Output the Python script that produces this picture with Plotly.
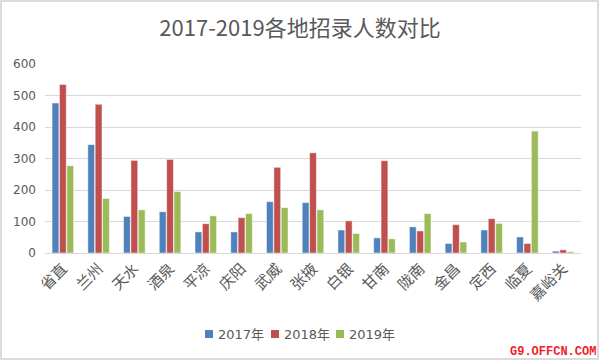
import plotly.graph_objects as go

categories = ["省直", "兰州", "天水", "酒泉", "平凉", "庆阳", "武威", "张掖", "白银", "甘南", "陇南", "金昌", "定西", "临夏", "嘉峪关"]
v2017 = [476, 344, 116, 131, 67, 67, 163, 160, 73, 48, 83, 30, 73, 51, 6]
v2018 = [535, 472, 294, 297, 93, 112, 272, 318, 102, 293, 70, 90, 109, 30, 10]
v2019 = [277, 173, 137, 195, 118, 125, 144, 137, 62, 45, 125, 35, 94, 387, 4]
series_names = ["2017年", "2018年", "2019年"]
colors = ["#4F81BD", "#C0504D", "#9BBB59"]

font_fam = "Noto Sans CJK SC, DejaVu Sans, sans-serif"

fig = go.Figure()
for name, vals, c in zip(series_names, [v2017, v2018, v2019], colors):
    fig.add_trace(go.Bar(x=categories, y=vals, name=name, showlegend=False,
                         marker=dict(color=c, line=dict(color="rgba(255,255,255,0.6)", width=0.8))))

L, R, T, B = 45, 19, 64, 108
W, H = 600, 361
pw, ph = W - L - R, H - T - B

def px_x(x):
    return (x - L) / pw

def px_y(y):
    return (T + ph - y) / ph

shapes = [dict(type="rect", xref="paper", yref="paper",
               x0=px_x(1), x1=px_x(598), y0=px_y(359), y1=px_y(1),
               line=dict(color="#D0D0D0", width=1.5), fillcolor="rgba(0,0,0,0)", layer="below")]
annotations = [dict(text="<b>G9.OFFCN.COM</b>", xref="paper", yref="paper", x=px_x(598), y=px_y(352),
                    xanchor="right", yanchor="middle", showarrow=False,
                    font=dict(family="Liberation Mono, DejaVu Sans Mono, monospace", size=12, color="#F01E28"))]

# legend (manual, compact like the reference)
leg_x = [205, 271, 336]
leg_y = 334
for name, c, lx in zip(series_names, colors, leg_x):
    shapes.append(dict(type="rect", xref="paper", yref="paper",
                       x0=px_x(lx), x1=px_x(lx + 8), y0=px_y(leg_y + 4), y1=px_y(leg_y - 4),
                       line=dict(width=0), fillcolor=c))
    annotations.append(dict(text=name, xref="paper", yref="paper", x=px_x(lx + 11), y=px_y(leg_y),
                            xanchor="left", yanchor="middle", showarrow=False,
                            font=dict(family="DejaVu Sans, Noto Sans CJK SC, sans-serif", size=13, color="#595959")))

fig.update_layout(
    width=W, height=H,
    margin=dict(l=L, r=R, t=T, b=B, autoexpand=False),
    paper_bgcolor="white", plot_bgcolor="white",
    barmode="group", bargap=0.38, bargroupgap=0.08,
    showlegend=False,
    title=dict(text="2017-2019各地招录人数对比", x=0.5, xanchor="center", y=1 - 28 / H, yanchor="middle",
               font=dict(family=font_fam, size=22, color="#595959")),
    font=dict(family=font_fam, color="#595959"),
    xaxis=dict(tickangle=-45, tickfont=dict(size=15, color="#595959"), showgrid=False, automargin=False,
               showline=True, linecolor="#D9D9D9", ticks=""),
    yaxis=dict(range=[0, 600], dtick=100, showgrid=True, gridcolor="#D9D9D9", gridwidth=1, automargin=False,
               ticklabelstandoff=8,
               tickfont=dict(family="DejaVu Sans, sans-serif", size=12, color="#595959"), zeroline=False, ticks="", ticklen=0),
    shapes=shapes,
    annotations=annotations,
)

fig.write_html("out.html", config={"displayModeBar": False},
               post_script="document.body.style.margin='0';document.body.style.overflow='hidden';")
